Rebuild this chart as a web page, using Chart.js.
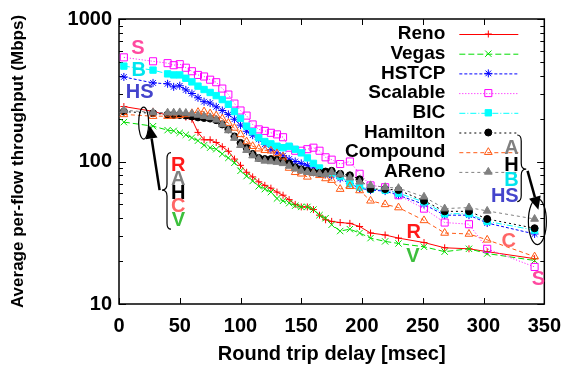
<!DOCTYPE html>
<html>
<head>
<meta charset="utf-8">
<script src="https://cdn.jsdelivr.net/npm/chart.js@4.4.1/dist/chart.umd.min.js"></script>
<style>
  html, body { margin: 0; padding: 0; background: #fff; }
</style>
</head>
<body>
<canvas id="tput" width="571" height="372"></canvas>
<script>
// round trip delay (msec) of each measurement
var delays = [4, 28, 40, 45, 50, 55, 60, 65, 70, 75, 80, 85, 90, 95, 100, 105, 110, 115, 120, 125,
              130, 135, 140, 145, 150, 155, 160, 165, 170, 175, 182, 190, 198, 207, 219, 230, 251, 268, 288, 303, 342];

// per-flow throughput (Mbps)
var reno     = [243, 225, 211, 211, 211, 205, 198, 160, 142, 142, 136, 127, 118, 104, 94, 84, 78, 72, 68, 65,
                61, 58, 54, 50, 48, 48, 46, 42, 39, 38, 37.3, 36.8, 35, 31.5, 30.5, 29, 27, 24.8, 24.4, 23.3, 20.8];
var vegas    = [189, 177, 166, 164, 159, 154, 147, 140, 130, 125, 122, 113, 106, 98, 86, 79, 73, 67, 64, 61,
                55, 53, 51, 49, 48, 48, 46, 42, 40, 36, 32.5, 33.5, 31.5, 29, 27.5, 26.6, 25.2, 23.3, 24.4, 22.6, 20.2];
var hstcp    = [392, 356, 351, 334, 340, 318, 300, 280, 263, 257, 242, 228, 214, 198, 180, 163, 153, 143, 132, 121,
                115, 110, 104, 100, 97, 94, 90, 86, 82, 80, 76, 70, 65, 63, 62, 58, 50, 42, 42, 37, 31];
var scalable = [538, 505, 490, 474, 482, 455, 430, 405, 395, 375, 360, 325, 295, 255, 228, 210, 182, 168, 164, 159,
                155, 148, 125, 119, 119, 122, 125, 119, 107, 103, 96, 100, 82, 68, 66, 58, 46.7, 37.3, 36.3, 24.4, 18.2];
var bic      = [467, 438, 412, 405, 405, 384, 362, 338, 320, 305, 290, 272, 252, 224, 201, 177, 162, 147, 138, 133,
                128, 125, 128, 122, 115, 106, 97, 90, 83, 83, 79, 70, 66, 64, 63, 60, 52, 43, 43, 38, 33];
var hamilton = [224, 218, 214, 212, 212, 210, 207, 204, 202, 200, 195, 182, 168, 150, 135, 125, 113, 106, 104, 104,
                103, 101, 97, 91, 88, 86, 84, 83, 85, 86, 82, 80, 75, 64, 64, 63, 53, 44.7, 44.7, 39.5, 34];
var compound = [214, 208, 208, 209, 211, 214, 218, 222, 224, 217, 210, 200, 186, 172, 155, 138, 128, 123, 120, 119,
                114, 108, 90, 84, 82, 78, 83, 80, 76, 74, 64, 67, 62.6, 53, 50, 47.5, 38.6, 31.5, 31, 28.2, 21.5];
var areno    = [229, 221, 220, 220, 221, 219, 216, 212, 208, 204, 196, 182, 165, 146, 130, 120, 110, 104, 101, 100,
                99, 97, 93, 89, 86, 84, 83, 82, 81, 84, 81, 77, 72, 68, 66, 65, 56.5, 46.7, 47.5, 45, 39.5];

var seriesNames = ['Reno', 'Vegas', 'HSTCP', 'Scalable', 'BIC', 'Hamilton', 'Compound', 'AReno'];
var xTickValues = [0, 50, 100, 150, 200, 250, 300, 350];
var yTickValues = [10, 100, 1000];

// letters written on the plot, placed in data units
var tags = [
  { text: 'S',  x: 15.5, y: 631,  color: '#ff4aa0' },
  { text: 'B',  x: 16.3, y: 445,  color: '#00e5ee' },
  { text: 'HS', x: 17,   y: 309,  color: '#4444cc' },
  { text: 'R',  x: 48.8, y: 95.4, color: '#ff1a1a' },
  { text: 'A',  x: 48.8, y: 76.4, color: '#808080' },
  { text: 'H',  x: 48.8, y: 61.1, color: '#000000' },
  { text: 'C',  x: 48.8, y: 48.9, color: '#ff6666' },
  { text: 'V',  x: 48.8, y: 39.2, color: '#3cbf3c' },
  { text: 'A',  x: 323,  y: 125,  color: '#808080' },
  { text: 'H',  x: 323,  y: 95.4, color: '#000000' },
  { text: 'B',  x: 323,  y: 74.2, color: '#00e5ee' },
  { text: 'HS', x: 317.5, y: 57.4, color: '#4444cc' },
  { text: 'R',  x: 242.6, y: 32.4, color: '#ff1a1a' },
  { text: 'V',  x: 241.8, y: 21.8, color: '#3cbf3c' },
  { text: 'C',  x: 320.7, y: 27.7, color: '#ff6666' },
  { text: 'S',  x: 345.1, y: 15.2, color: '#ff4aa0' }
];

function pairs(vals) {
  return delays.map(function(d, i) { return { x: d, y: vals[i] }; });
}

var styles = [
  { c: '#ff0000', dash: [],           ps: 'cross',    r: 3.5, bg: '#ff0000' },
  { c: '#00dd00', dash: [6, 3],       ps: 'crossRot', r: 4.5, bg: '#00dd00' },
  { c: '#0000ff', dash: [3, 2],       ps: 'star',     r: 4,   bg: '#0000ff' },
  { c: '#ff00ff', dash: [1, 2],       ps: 'rect',     r: 5,   bg: 'rgba(0,0,0,0)' },
  { c: '#00ffff', dash: [6, 2, 1, 2], ps: 'rect',     r: 4.5, bg: '#00ffff' },
  { c: '#000000', dash: [2, 3],       ps: 'circle',   r: 3.5, bg: '#000000' },
  { c: '#ff5a14', dash: [4, 3],       ps: 'triangle', r: 4.5, bg: 'rgba(0,0,0,0)' },
  { c: '#808080', dash: [3, 3],       ps: 'triangle', r: 4.5, bg: '#808080' }
];
var allSeries = [reno, vegas, hstcp, scalable, bic, hamilton, compound, areno];

var datasets = allSeries.map(function(vals, i) {
  var s = styles[i];
  return {
    label: seriesNames[i],
    data: pairs(vals),
    borderColor: s.c,
    backgroundColor: s.bg,
    borderWidth: 1,
    borderDash: s.dash,
    pointStyle: s.ps,
    pointRadius: s.r,
    pointBorderColor: s.c,
    pointBackgroundColor: s.bg,
    pointBorderWidth: 1,
    order: allSeries.length - 1 - i
  };
});

function arrow(ctx, x0, y0, x1, y1) {
  var ang = Math.atan2(y1 - y0, x1 - x0);
  var hl = 13, hw = 6;
  var bx = x1 - hl * Math.cos(ang), by = y1 - hl * Math.sin(ang);
  ctx.lineWidth = 2.5;
  ctx.beginPath();
  ctx.moveTo(x0, y0);
  ctx.lineTo(bx, by);
  ctx.stroke();
  ctx.beginPath();
  ctx.moveTo(x1, y1);
  ctx.lineTo(bx + hw * Math.sin(ang), by - hw * Math.cos(ang));
  ctx.lineTo(bx - hw * Math.sin(ang), by + hw * Math.cos(ang));
  ctx.closePath();
  ctx.fill();
}

function brace(ctx, xc, top, bot, mid, d) {
  var xe = xc - d * 4, xt = xc + d * 5;
  ctx.lineWidth = 1.2;
  ctx.beginPath();
  ctx.moveTo(xe, top);
  ctx.quadraticCurveTo(xc, top, xc, top + 6);
  ctx.lineTo(xc, mid - 6);
  ctx.quadraticCurveTo(xc, mid, xt, mid);
  ctx.quadraticCurveTo(xc, mid, xc, mid + 6);
  ctx.lineTo(xc, bot - 6);
  ctx.quadraticCurveTo(xc, bot, xe, bot);
  ctx.stroke();
}

var decor = {
  id: 'decor',
  beforeDatasetsDraw: function(chart) {
    var ctx = chart.ctx, a = chart.chartArea, xs = chart.scales.x, ys = chart.scales.y;
    ctx.save();
    ctx.strokeStyle = '#000';
    ctx.lineWidth = 1;
    ctx.beginPath();
    xTickValues.forEach(function(v) {
      var px = Math.round(xs.getPixelForValue(v)) + 0.5;
      ctx.moveTo(px, a.bottom); ctx.lineTo(px, a.bottom - 6);
      ctx.moveTo(px, a.top); ctx.lineTo(px, a.top + 6);
    });
    [10, 100].forEach(function(dec) {
      for (var m = 1; m <= 10; m++) {
        var py = Math.round(ys.getPixelForValue(dec * m)) + 0.5;
        var len = (m === 1 || m === 10) ? 7 : 4;
        ctx.moveTo(a.left, py); ctx.lineTo(a.left + len, py);
        ctx.moveTo(a.right, py); ctx.lineTo(a.right - len, py);
      }
    });
    ctx.stroke();
    ctx.lineWidth = 1.5;
    ctx.strokeRect(a.left, a.top, a.right - a.left, a.bottom - a.top);
    ctx.restore();
  },
  afterDatasetsDraw: function(chart) {
    var ctx = chart.ctx, a = chart.chartArea, xs = chart.scales.x, ys = chart.scales.y;
    ctx.save();

    // key, gnuplot style: name on the left, sample on the right
    ctx.font = 'bold 19px "Liberation Sans"';
    ctx.textAlign = 'right';
    ctx.textBaseline = 'middle';
    chart.data.datasets.forEach(function(ds, i) {
      var ly = a.top + 15 + i * 19.7;
      var tx = a.right - 99;
      ctx.fillStyle = '#000';
      ctx.fillText(ds.label, tx, ly);
      ctx.strokeStyle = ds.borderColor;
      ctx.lineWidth = 1;
      ctx.setLineDash(ds.borderDash);
      ctx.beginPath();
      ctx.moveTo(tx + 14, ly + 0.5);
      ctx.lineTo(tx + 73, ly + 0.5);
      ctx.stroke();
      ctx.setLineDash([]);
      ctx.fillStyle = ds.pointBackgroundColor;
      ctx.lineWidth = 1;
      Chart.helpers.drawPoint(ctx, { pointStyle: ds.pointStyle, radius: ds.pointRadius, rotation: 0, borderWidth: 1 }, tx + 43, ly);
    });

    // letters
    ctx.font = 'bold 20px "Liberation Sans"';
    ctx.textAlign = 'center';
    tags.forEach(function(t) {
      ctx.fillStyle = t.color;
      ctx.fillText(t.text, xs.getPixelForValue(t.x), ys.getPixelForValue(t.y) + 1);
    });

    // ellipses, braces and arrows
    ctx.strokeStyle = '#000';
    ctx.fillStyle = '#000';
    ctx.lineWidth = 1.2;
    ctx.beginPath();
    ctx.ellipse(xs.getPixelForValue(20.3), ys.getPixelForValue(186), 5, 16, 0, 0, Math.PI * 2);
    ctx.stroke();
    ctx.beginPath();
    ctx.ellipse(xs.getPixelForValue(344.3), ys.getPixelForValue(37.9), 9, 23, 0, 0, Math.PI * 2);
    ctx.stroke();

    brace(ctx, xs.getPixelForValue(39.5), ys.getPixelForValue(115.6), ys.getPixelForValue(33.5), ys.getPixelForValue(63), -1);
    brace(ctx, xs.getPixelForValue(331), ys.getPixelForValue(153.5), ys.getPixelForValue(52.3), ys.getPixelForValue(88.4), 1);

    arrow(ctx, xs.getPixelForValue(33.4), ys.getPixelForValue(63), xs.getPixelForValue(25.2), ys.getPixelForValue(179));
    arrow(ctx, xs.getPixelForValue(336.2), ys.getPixelForValue(86), xs.getPixelForValue(345.1), ys.getPixelForValue(45.9));

    ctx.restore();
  }
};

Chart.defaults.font.family = '"Liberation Sans", Arial, sans-serif';
Chart.defaults.font.weight = 'bold';
Chart.defaults.font.size = 20;
Chart.defaults.color = '#000';

new Chart(document.getElementById('tput'), {
  type: 'line',
  data: { datasets: datasets },
  options: {
    responsive: false,
    animation: false,
    events: [],
    layout: { padding: { top: 14, right: 22, left: 0, bottom: 0 } },
    plugins: { legend: { display: false }, tooltip: { enabled: false } },
    scales: {
      x: {
        type: 'linear',
        min: 0,
        max: 350,
        grid: { display: false, drawTicks: false },
        border: { display: false },
        ticks: { stepSize: 50, padding: 10, maxRotation: 0 },
        title: { display: true, text: 'Round trip delay [msec]', padding: { top: 0, bottom: 6 } },
        afterFit: function(s) { s.height = 68; }
      },
      y: {
        type: 'logarithmic',
        min: 10,
        max: 1000,
        grid: { display: false, drawTicks: false },
        border: { display: false },
        ticks: { padding: 7, callback: function(v) { return String(v); } },
        afterBuildTicks: function(s) { s.ticks = yTickValues.map(function(v) { return { value: v }; }); },
        title: {
          display: true,
          text: 'Average per-flow throughput (Mbps)',
          font: { size: 17, weight: 'bold' },
          padding: { top: 8, bottom: 0 }
        },
        afterFit: function(s) { s.width = 119; }
      }
    }
  },
  plugins: [decor]
});
</script>
</body>
</html>
